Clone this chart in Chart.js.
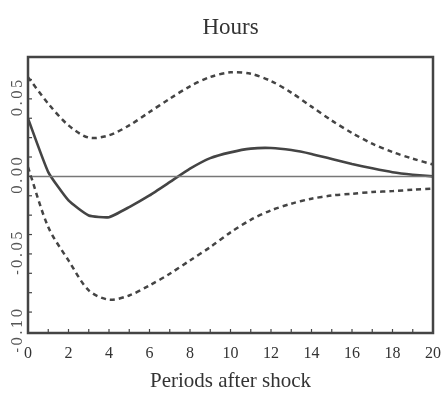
<!DOCTYPE html>
<html>
<head>
<meta charset="utf-8">
<script src="https://cdn.jsdelivr.net/npm/chart.js@4.4.1/dist/chart.umd.min.js"></script>
<style>body{margin:0;background:#fff}</style>
</head>
<body>
<canvas id="irf" width="444" height="394"></canvas>
<script>
(() => {

// impulse response of hours, with error bands
var periods = [0, 1, 2, 3, 4, 5, 6, 7, 8, 9, 10, 11, 12, 13, 14, 15, 16, 17, 18, 19, 20];
var hours = [0.0374, 0.0028, -0.0155, -0.0252, -0.0263, -0.0198, -0.0123, -0.0037, 0.0050, 0.0118, 0.0155,
	0.0179, 0.0183, 0.0170, 0.0145, 0.0112, 0.0080, 0.0052, 0.0027, 0.0011, 0.0];
var upperBand = [0.0640, 0.0469, 0.0329, 0.0250, 0.0265, 0.0329, 0.0415, 0.0501, 0.0581, 0.0641, 0.0671,
	0.0662, 0.0615, 0.0540, 0.0450, 0.0360, 0.0280, 0.0211, 0.0157, 0.0114, 0.0077];
var lowerBand = [0.0060, -0.0327, -0.0542, -0.0735, -0.0795, -0.0768, -0.0703, -0.0628, -0.0542, -0.0456, -0.0361,
	-0.0280, -0.0219, -0.0176, -0.0144, -0.0123, -0.0112, -0.0101, -0.0095, -0.0086, -0.0079];
var zeroLine = periods.map(() => 0);

var yTickValues = [0.05, 0.00, -0.05, -0.10];
var yTickLabels = ['0.05', '0.00', '-0.05', '-0.10'];

var ink = '#444';

// box round the plot, inward ticks and the rotated y labels
const framePlugin = {
	id: 'frame',
	afterDraw(chart) {
		const ctx = chart.ctx;
		const a = chart.chartArea;
		const xs = chart.scales.x;
		const ys = chart.scales.y;
		ctx.save();
		ctx.strokeStyle = ink;
		ctx.lineWidth = 1.2;
		for (let t of xs.ticks) {
			let px = xs.getPixelForValue(t.value);
			ctx.beginPath();
			ctx.moveTo(px, a.bottom);
			ctx.lineTo(px, a.bottom - 4);
			ctx.stroke();
		}
		for (let t of ys.ticks) {
			let k = t.value / 0.0125;
			if (Math.abs(k - Math.round(k)) > 0.01) continue;
			let py = ys.getPixelForValue(t.value);
			ctx.beginPath();
			ctx.moveTo(a.left, py);
			ctx.lineTo(a.left + 4, py);
			ctx.stroke();
		}
		ctx.lineWidth = 2.5;
		ctx.strokeRect(a.left, a.top, a.right - a.left, a.bottom - a.top);

		ctx.fillStyle = '#555';
		ctx.font = '14px "DejaVu Serif"';
		ctx.letterSpacing = '2px';
		ctx.textAlign = 'center';
		ctx.textBaseline = 'middle';
		for (let i = 0; i < yTickValues.length; i++) {
			let py = ys.getPixelForValue(yTickValues[i]);
			ctx.save();
			ctx.translate(18, py - 2);
			ctx.rotate(-Math.PI / 2);
			ctx.fillText(yTickLabels[i], 0, 0);
			ctx.restore();
		}
		ctx.restore();
	}
};

const canvas = document.getElementById('irf');
const irfChart = new Chart(canvas, {
	type: 'line',
	data: {
		labels: periods,
		datasets: [
			{
				label: 'zero',
				data: zeroLine,
				borderColor: '#777',
				borderWidth: 1.5,
				pointRadius: 0
			},
			{
				label: 'upper',
				data: upperBand,
				borderColor: ink,
				borderWidth: 2.5,
				borderDash: [5, 4],
				tension: 0.3,
				pointRadius: 0
			},
			{
				label: 'lower',
				data: lowerBand,
				borderColor: ink,
				borderWidth: 2.5,
				borderDash: [5, 4],
				tension: 0.3,
				pointRadius: 0
			},
			{
				label: 'hours',
				data: hours,
				borderColor: ink,
				borderWidth: 2.6,
				tension: 0.15,
				pointRadius: 0
			}
		]
	},
	options: {
		responsive: false,
		animation: false,
		layout: { padding: { left: 0, right: 8, top: 0, bottom: 0 } },
		plugins: {
			legend: { display: false },
			tooltip: { enabled: false }
		},
		scales: {
			x: {
				type: 'linear',
				min: 0,
				max: 20,
				grid: { display: false },
				border: { display: false },
				ticks: {
					stepSize: 1,
					autoSkip: false,
					maxRotation: 0,
					padding: 3,
					color: '#333',
					font: { family: '"Liberation Serif"', size: 16 },
					callback: (v) => (v % 2 === 0 ? String(v) : '')
				},
				title: {
					display: true,
					text: 'Periods after shock',
					color: '#333',
					font: { family: '"Liberation Serif"', size: 21 },
					padding: { top: 6, bottom: 0 }
				},
				afterFit: (s) => { s.height = 61; }
			},
			// top axis only carries the panel title, centred over the plot
			x2: {
				type: 'linear',
				position: 'top',
				display: true,
				grid: { display: false },
				border: { display: false },
				ticks: { display: false },
				title: {
					display: true,
					text: 'Hours',
					color: '#333',
					font: { family: '"Liberation Serif"', size: 23 },
					padding: { top: 14, bottom: 0 }
				},
				afterFit: (s) => { s.height = 57; }
			},
			y: {
				min: -0.101,
				max: 0.077,
				grid: { display: false },
				border: { display: false },
				ticks: { display: false, stepSize: 0.0125 },
				afterFit: (s) => { s.width = 28; }
			}
		}
	},
	plugins: [framePlugin]
});

})();
</script>
</body>
</html>
